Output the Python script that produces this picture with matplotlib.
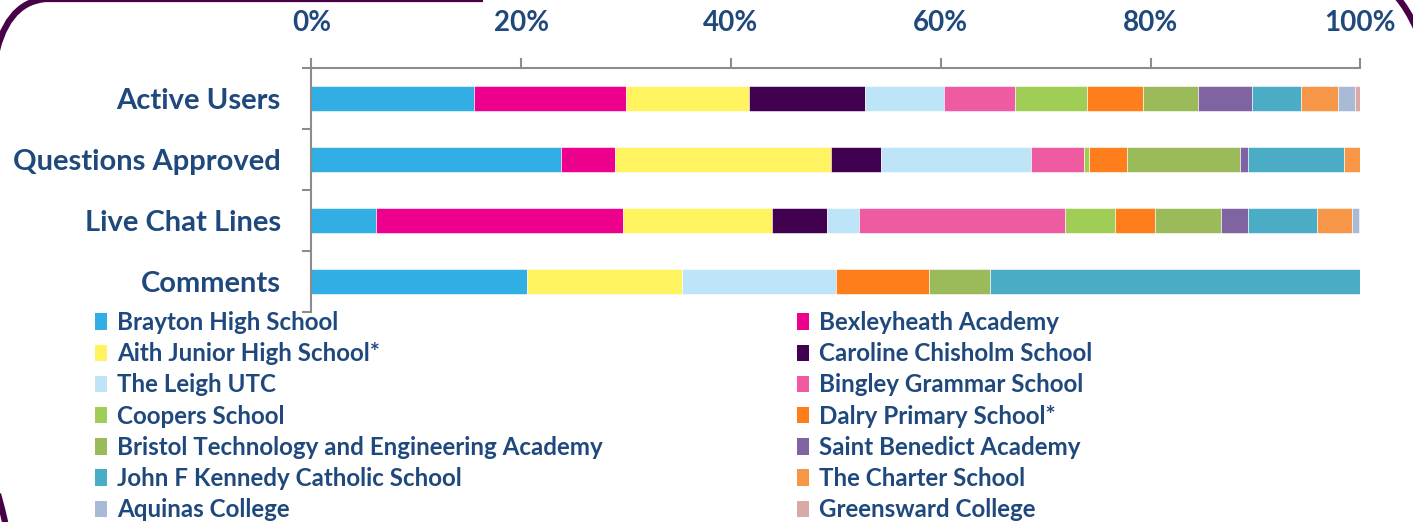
import numpy as np
import matplotlib
matplotlib.use('Agg')
import matplotlib.pyplot as plt
from matplotlib.path import Path
from matplotlib.patches import PathPatch, Patch

# categories top to bottom
categories = ['Active Users', 'Questions Approved', 'Live Chat Lines', 'Comments']

schools = ['Brayton High School', 'Bexleyheath Academy', 'Aith Junior High School*',
           'Caroline Chisholm School', 'The Leigh UTC', 'Bingley Grammar School',
           'Coopers School', 'Dalry Primary School*',
           'Bristol Technology and Engineering Academy', 'Saint Benedict Academy',
           'John F Kennedy Catholic School', 'The Charter School',
           'Aquinas College', 'Greensward College']

# share (%) of each category, one list per school
brayton = [15.5, 23.8, 6.2, 20.6]
bexleyheath = [14.5, 5.15, 23.5, 0]
aith = [11.75, 20.6, 14.2, 14.7]
caroline = [11.0, 4.75, 5.3, 0]
leigh = [7.55, 14.3, 3.05, 14.7]
bingley = [6.8, 5.1, 19.6, 0]
coopers = [6.8, 0.45, 4.75, 0]
dalry = [5.4, 3.6, 3.8, 8.85]
bristol = [5.2, 10.75, 6.35, 5.85]
benedict = [5.15, 0.75, 2.5, 0]
jfk = [4.7, 9.15, 6.6, 35.3]
charter = [3.55, 1.6, 3.4, 0]
aquinas = [1.6, 0, 0.6, 0]
greensward = [0.5, 0, 0.15, 0]

values = [brayton, bexleyheath, aith, caroline, leigh, bingley, coopers, dalry,
          bristol, benedict, jfk, charter, aquinas, greensward]

colors = ['#31AEE3', '#EC008C', '#FFF35F', '#420050', '#BDE5F7', '#EF5BA1',
          '#A0CD55', '#FD7E1A', '#9BBA59', '#8064A2', '#4BACC6', '#F79646',
          '#A9BAD7', '#DBA8A8']

x_ticks = [0, 20, 40, 60, 80, 100]

text_col = '#1F497D'
spine_col = '#8C8C8C'
W, H = 1413, 522

plt.rcParams['font.family'] = ['Lato', 'DejaVu Sans']
plt.rcParams['font.weight'] = 'bold'

fig = plt.figure(figsize=(W / 100, H / 100), dpi=100)
ax = fig.add_axes([311.4 / W, 1 - 312 / H, 1048.9 / W, 244 / H])

data = np.array(values, dtype=float)
data = data / data.sum(axis=0) * 100
y = np.arange(len(categories))
left = np.zeros(len(categories))
for i in range(len(schools)):
    ax.barh(y, data[i], left=left, height=0.41, color=colors[i],
            edgecolor='white', linewidth=0.4, label=schools[i])
    left += data[i]

ax.set_xlim(0, 100)
ax.set_ylim(3.5, -0.5)

ax.xaxis.tick_top()
ax.set_xticks(x_ticks)
ax.set_xticklabels([f'{v}%' for v in x_ticks])
ax.tick_params(axis='x', direction='out', length=7, width=1.5, color=spine_col,
               pad=16, labelsize=20, labelcolor=text_col)

ax.set_yticks(y)
ax.set_yticklabels(categories)
ax.set_yticks(np.arange(-0.5, 4, 1), minor=True)
ax.tick_params(axis='y', which='major', length=0, pad=22, labelsize=21,
               labelcolor=text_col)
ax.tick_params(axis='y', which='minor', direction='out', length=6.5, width=1.5,
               color=spine_col)

for s in ['bottom', 'right']:
    ax.spines[s].set_visible(False)
for s in ['top', 'left']:
    ax.spines[s].set_color(spine_col)
    ax.spines[s].set_linewidth(1.5)

# legend: two columns filled row by row
handles = [Patch(facecolor=c, edgecolor='none') for c in colors]
for col, x0 in [(0, 95), (1, 797)]:
    h = handles[col::2]
    l = schools[col::2]
    fig.legend(h, l, loc='upper left', bbox_to_anchor=(x0 / W, 1 - 311 / H),
               frameon=False, fontsize=17.4, labelcolor=text_col,
               handlelength=0.5, handleheight=0.66, handletextpad=0.42,
               labelspacing=0.34, borderpad=0, borderaxespad=0)


# slide frame pieces (pixel coords from top-left)
def frame(points, codes):
    pts = [(px / W, 1 - py / H) for px, py in points]
    fig.add_artist(PathPatch(Path(pts, codes), transform=fig.transFigure,
                             fill=False, edgecolor='#480046', linewidth=4.5,
                             capstyle='butt'))


frame([(-6, 64), (4, 3), (45, -1), (483, -1), (620, -5)],
      [Path.MOVETO, Path.CURVE3, Path.CURVE3, Path.LINETO, Path.LINETO])
frame([(1397, -3), (1407, 8), (1417, 30)],
      [Path.MOVETO, Path.CURVE3, Path.CURVE3])
frame([(-2, 494), (2, 508), (6, 526)],
      [Path.MOVETO, Path.CURVE3, Path.CURVE3])

plt.savefig('out.png', dpi=100)
